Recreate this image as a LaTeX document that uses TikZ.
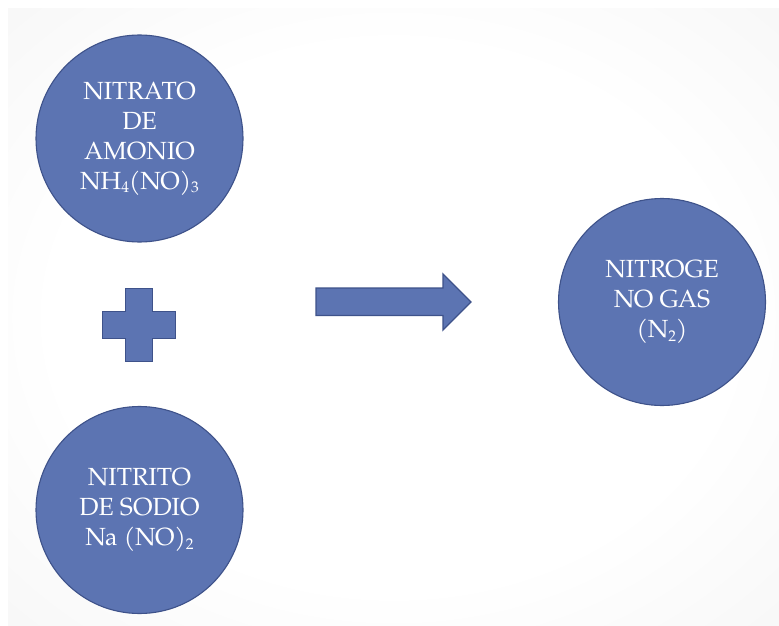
\documentclass[tikz,border=0pt]{standalone}
\usepackage{fontspec}
\setmainfont{TeX Gyre Pagella}
\definecolor{ballfill}{RGB}{92,116,178}
\definecolor{balledge}{RGB}{62,82,138}
\pgfdeclareradialshading{slidebg}{\pgfpoint{0bp}{0bp}}{%
  color(0bp)=(white); color(22bp)=(white); color(50bp)=(black!6); color(72bp)=(black!12)}
\newcommand\chsub[1]{\raisebox{-0.28ex}{\fontsize{15.5}{15.5}\selectfont #1}}
\tikzset{
  ball/.style={circle, fill=ballfill, draw=balledge, line width=1.1pt,
    minimum size=207pt, inner sep=0pt, text=white, align=center,
    font=\fontsize{24.8}{30}\selectfont},
  blockshape/.style={fill=ballfill, draw=balledge, line width=1.3pt, line join=miter}
}
\begin{document}
\begin{tikzpicture}[x=1pt,y=-1pt]
  \useasboundingbox (0,0) rectangle (779,626);
  \fill[white] (0,0) rectangle (779,626);
  % slide background
  \shade[shading=slidebg] (8,9) rectangle (779,626);

  % reactants and product
  \node[ball] (nitrato) at (139.5,138.5) {NITRATO\\DE\\AMONIO\\NH\chsub{4}(NO)\chsub{3}};
  \node[ball] (nitrito) at (139.5,510) {NITRITO\\DE SODIO\\Na (NO)\chsub{2}};
  \node[ball] (nitrogeno) at (662,302) {NITROGE\\NO GAS\\(N\chsub{2})};

  % plus sign
  \draw[blockshape] (125.5,288.5) -- (152.5,288.5) -- (152.5,311.5) -- (175.5,311.5)
    -- (175.5,338.5) -- (152.5,338.5) -- (152.5,361.5) -- (125.5,361.5)
    -- (125.5,338.5) -- (102.5,338.5) -- (102.5,311.5) -- (125.5,311.5) -- cycle;

  % reaction arrow
  \draw[blockshape] (316,288) -- (443,288) -- (443,274) -- (471,302)
    -- (443,330) -- (443,315.5) -- (316,315.5) -- cycle;
\end{tikzpicture}
\end{document}
